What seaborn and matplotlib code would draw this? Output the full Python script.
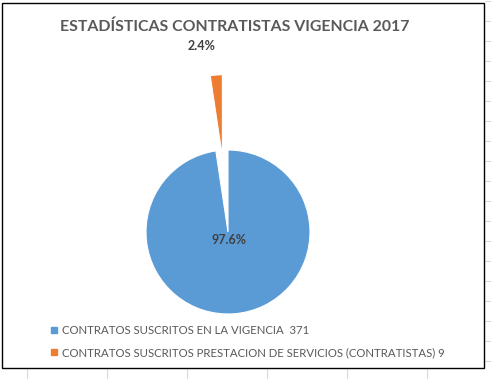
import numpy as np
import matplotlib
matplotlib.use("Agg")
import matplotlib.pyplot as plt
from matplotlib.lines import Line2D
from matplotlib.patches import Rectangle
import seaborn as sns

# datos
categorias = ["CONTRATOS SUSCRITOS EN LA VIGENCIA  371",
              "CONTRATOS SUSCRITOS PRESTACION DE SERVICIOS (CONTRATISTAS) 9"]
valores = [371, 9]
titulo = "ESTADÍSTICAS CONTRATISTAS VIGENCIA 2017"

sns.set_style("white")
plt.rcParams['font.family'] = ['Lato', 'DejaVu Sans']

colores = ["#5B9BD5", "#ED7D31"]
W, H = 491, 379
fig = plt.figure(figsize=(W / 100, H / 100), dpi=100)

# torta: 1 unidad = 82 px, centro en (228, 232)
R = 82.0
cx, cy = 228.0, 232.0
ax = fig.add_axes([0, 0, 1, 1])
ax.patch.set_alpha(0)
wedges, texts, autotexts = ax.pie(valores, colors=colores, startangle=90, counterclock=False,
                                  explode=[0, 0.92], autopct='%1.1f%%', pctdistance=0.1,
                                  wedgeprops=dict(edgecolor="white", linewidth=0.8),
                                  textprops=dict(color="#404040", fontsize=9, fontweight="bold"))
ax.set_xlim(-cx / R, (W - cx) / R)
ax.set_ylim(-(H - cy) / R, cy / R)
ax.axis("off")

# hoja de calculo de fondo y marco (en coordenadas de la torta, 1 px = 1/R)
px = lambda x: (x - cx) / R
py = lambda y: (cy - y) / R
gris = "#d9d9d9"
for x in [27, 107, 187, 267, 347, 427]:
    ax.plot([px(x), px(x)], [py(368), py(380)], color=gris, lw=0.8, clip_on=False)
for y in range(1, 380, 20):
    ax.plot([px(485), px(492)], [py(y), py(y)], color=gris, lw=0.8, clip_on=False)
ax.add_patch(Rectangle((px(2.5), py(367.5)), 481 / R, 365 / R, fill=False,
                       edgecolor="black", lw=1.0, clip_on=False, zorder=5))

# etiqueta 2.4% sobre la porcion separada
w = wedges[1]
mid = np.deg2rad((w.theta1 + w.theta2) / 2)
ox, oy = w.center
autotexts[1].set_position((ox + 1.36 * np.cos(mid) - 0.15, oy + 1.36 * np.sin(mid)))

fig.text(235 / W, 1 - 27 / H, titulo, ha="center", va="center", fontsize=11.4,
         fontweight="bold", color="#595959")

handles = [Line2D([], [], marker="s", ls="", color=c, markersize=4) for c in colores]
fig.legend(handles, categorias, loc="upper left", bbox_to_anchor=(48 / W, 1 - 325 / H),
           frameon=False, fontsize=8.2, labelcolor="#595959", handletextpad=0.2,
           labelspacing=1.0, borderaxespad=0, borderpad=0, handlelength=1)

fig.savefig("out.png", dpi=100)
